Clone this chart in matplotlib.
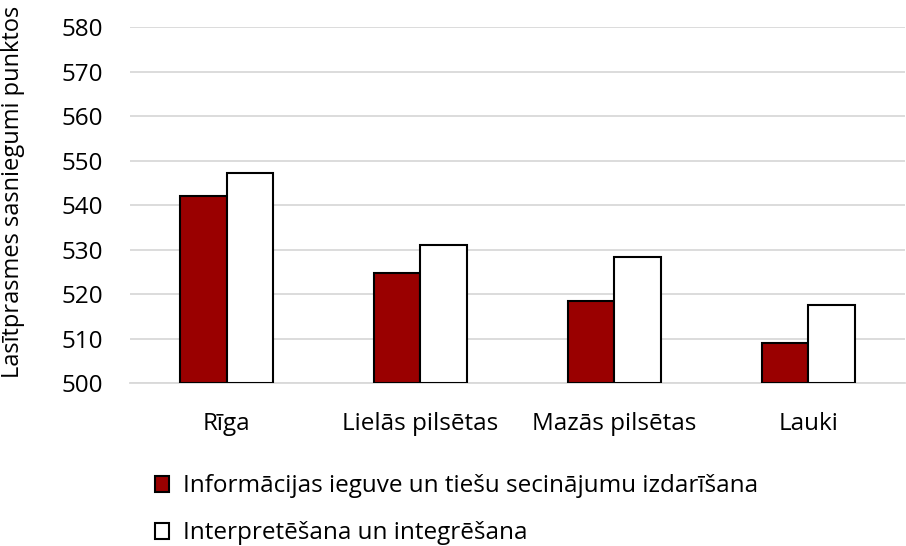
import numpy as np
import matplotlib.pyplot as plt

plt.rcParams['font.family'] = ['Open Sans', 'DejaVu Sans']

regions = ['Rīga', 'Lielās pilsētas', 'Mazās pilsētas', 'Lauki']
info = [542.1, 524.8, 518.4, 508.9]
interp = [547.3, 531.0, 528.4, 517.5]
series_names = ['Informācijas ieguve un tiešu secinājumu izdarīšana',
                'Interpretēšana un integrēšana']

fig = plt.figure(figsize=(9.06, 5.46), dpi=100)
ax = fig.add_axes([0.143, 0.2985, 0.856, 0.652])

x = np.arange(len(regions))
w = 0.24
ax.bar(x - w/2, np.array(info) - 500, w, bottom=500, color='#9a0000',
       edgecolor='black', linewidth=1.5, label=series_names[0], zorder=3)
ax.bar(x + w/2, np.array(interp) - 500, w, bottom=500, color='white',
       edgecolor='black', linewidth=1.5, label=series_names[1], zorder=3)

ax.set_ylim(500, 580)
ax.set_xlim(-0.5, 3.5)
ax.set_yticks(range(500, 581, 10))
ax.set_xticks(x)
ax.set_xticklabels(regions)
ax.tick_params(axis='y', length=0, labelsize=17.5, pad=19)
ax.tick_params(axis='x', length=0, labelsize=17.5, pad=21)
ax.yaxis.grid(True, color='#d9d9d9', linewidth=1.3, zorder=0)
for s in ['top', 'right', 'left']:
    ax.spines[s].set_visible(False)
ax.spines['bottom'].set_color('#d9d9d9')
ax.spines['bottom'].set_linewidth(1.3)
ax.set_ylabel('Lasītprasmes sasniegumi punktos', fontsize=17)
ax.yaxis.set_label_coords(-0.135, 0.537)

fig.legend(loc='upper left', bbox_to_anchor=(0.160, 0.149), frameon=False,
           fontsize=17.5, handlelength=0.6, handleheight=0.6, handletextpad=0.55,
           labelspacing=0.95, borderaxespad=0)

fig.savefig('out.png', dpi=100)
